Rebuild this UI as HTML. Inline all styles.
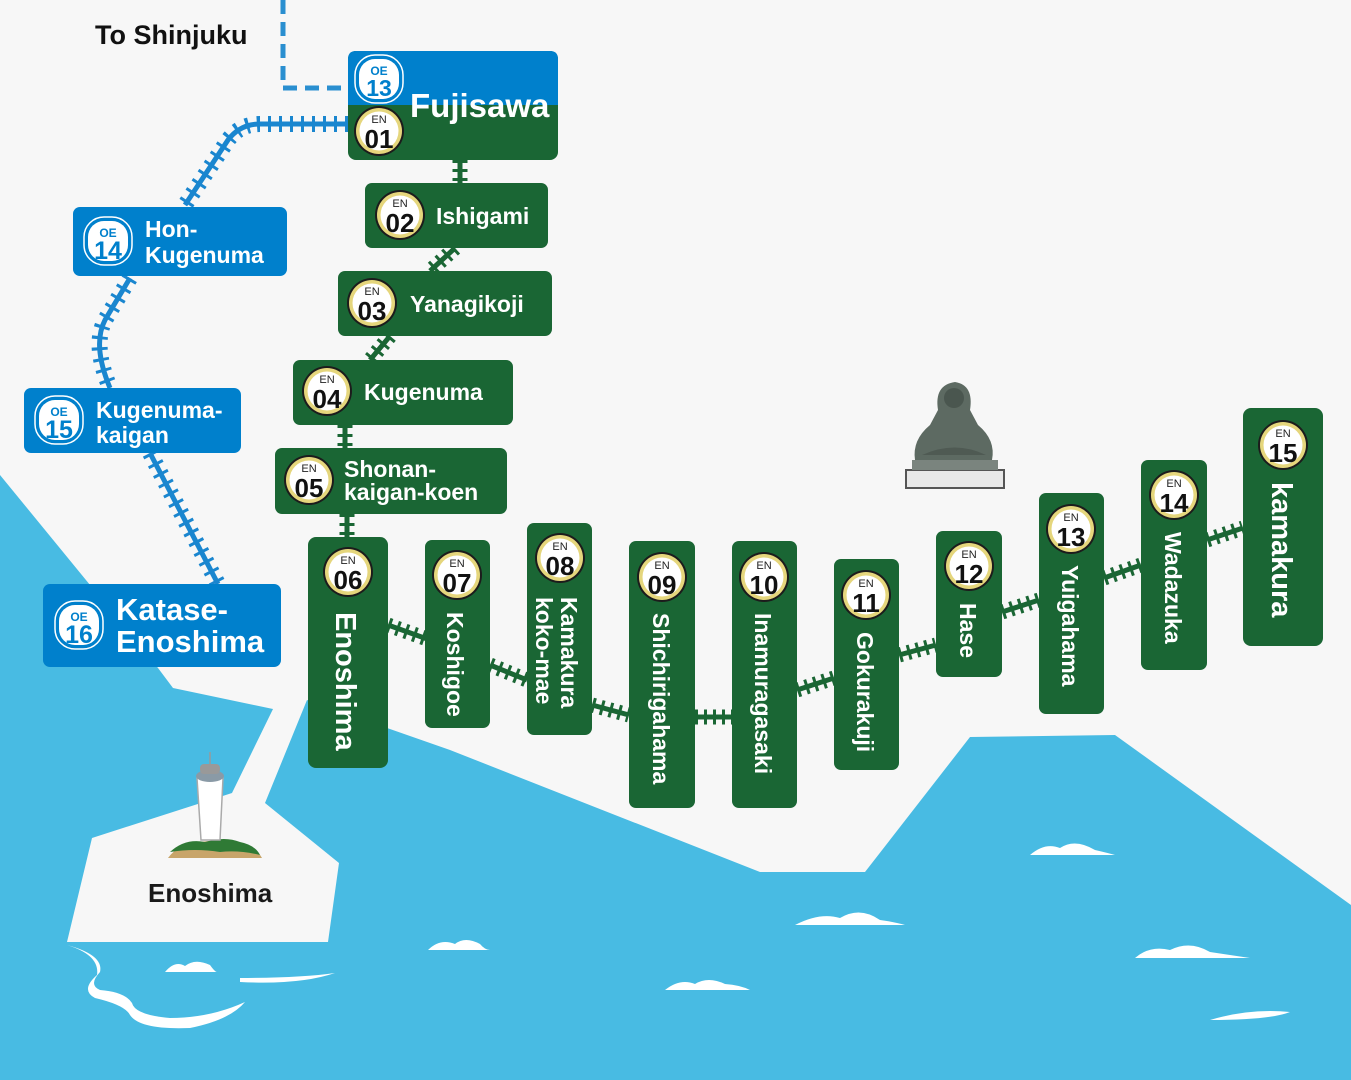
<!DOCTYPE html>
<html><head><meta charset="utf-8"><style>
html,body{margin:0;padding:0;background:#f7f7f7}
svg{display:block}
text{font-family:"Liberation Sans","DejaVu Sans",sans-serif;font-weight:bold}
</style></head><body>
<svg width="1351" height="1080" viewBox="0 0 1351 1080" xmlns="http://www.w3.org/2000/svg">
<defs>
<g id="enb">
<circle r="25" fill="#1c1c1c"/><circle r="23" fill="#e5d67c"/><circle r="19.5" fill="#fff"/>
<text y="-8" text-anchor="middle" font-size="11" fill="#222" style="font-weight:normal">EN</text>
</g>
<g id="oeb">
<rect x="-24" y="-24" width="48" height="48" rx="20" fill="none" stroke="#fff" stroke-width="1.5"/>
<rect x="-20" y="-20" width="40" height="40" rx="16" fill="#fff"/>
<text y="-4" text-anchor="middle" font-size="12" fill="#0080cc">OE</text>
</g>
</defs>
<rect width="1351" height="1080" fill="#48bbe3"/>
<polygon fill="#f7f7f7" points="0,0 1351,0 1351,905 1115,735 970,737 865,872 760,872 450,750 307,700 265,803 339,863 328,942 67,942 92,838 232,793 273,709 173,688 158,668 0,475"/>
<g fill="#fff">
<path d="M67,945 Q100,955 97,975 Q80,990 95,998 Q125,1005 130,1015 Q140,1030 190,1028 Q230,1020 245,1002 Q210,1018 170,1018 Q135,1015 132,1003 Q125,992 100,990 Q88,985 100,972 Q104,955 67,945Z"/>
<path d="M240,982 Q300,985 335,973 Q300,978 240,978Z"/>
<path d="M165,972 Q175,960 185,966 Q195,958 210,965 Q215,972 217,972Z"/>
<path d="M428,950 Q440,938 455,944 Q465,936 480,944 Q485,950 490,950Z"/>
<path d="M665,990 Q680,978 695,984 Q708,976 725,984 Q740,985 750,990Z"/>
<path d="M795,925 Q820,912 840,918 Q860,906 880,920 Q895,922 905,925Z"/>
<path d="M1030,855 Q1045,842 1060,848 Q1075,838 1095,850 Q1108,853 1115,855Z"/>
<path d="M1135,958 Q1150,945 1170,950 Q1190,940 1210,952 Q1230,955 1250,958Z"/>
<path d="M1210,1020 Q1250,1008 1290,1012 Q1270,1020 1210,1020Z"/>
</g>
<g>
<path d="M168,858 Q180,842 200,842 Q230,838 245,845 Q258,850 262,858Z" fill="#c8a56a"/>
<path d="M170,852 Q185,838 205,842 Q225,836 240,842 Q255,845 260,855 Q240,850 220,852 Q195,848 170,852Z" fill="#2f7a35"/>
<path d="M197,778 L223,778 L220,840 L201,840Z" fill="#fff" stroke="#aaa" stroke-width="1.5"/>
<ellipse cx="210" cy="776" rx="14" ry="6" fill="#8a9aa6"/>
<rect x="200" y="764" width="20" height="10" rx="4" fill="#999"/>
<line x1="210" y1="752" x2="210" y2="764" stroke="#999" stroke-width="1.5"/>
</g>
<g fill="#5d6a62">
<rect x="906" y="470" width="98" height="18" fill="#e8e8e8" stroke="#555" stroke-width="2"/>
<rect x="912" y="460" width="86" height="10" fill="#7a847e"/>
<path d="M915,460 Q912,440 930,425 L938,410 Q934,385 955,382 Q974,385 970,410 L978,425 Q996,440 992,460Z"/>
<circle cx="954" cy="398" r="10" fill="#4a564f"/>
<path d="M922,455 Q955,440 986,455Z" fill="#4f5a53"/>
</g>
<path d="M283,0 L283,88 L348,88" fill="none" stroke="#2a8fd0" stroke-width="5" stroke-dasharray="14 8"/>
<g fill="none" stroke="#1a86cf">
<path d="M348,124 L260,124 Q240,124 228,140 L185,205 M130,278 L105,320 Q92,345 110,388 M150,453 L218,584" stroke-width="5"/>
<path d="M348,124 L260,124 Q240,124 228,140 L185,205 M130,278 L105,320 Q92,345 110,388 M150,453 L218,584" stroke-width="16" stroke-dasharray="3 8"/>
</g>
<g fill="none" stroke="#1a6634">
<path d="M460,160 L460,183 M455,248 L430,271 M390,336 L370,360 M345,425 L345,448 M347,514 L347,537 M388,625 L430,640 M490,665 L527,680 M592,705 L629,715 M695,717 L732,717 M797,690 L834,678 M899,655 L936,645 M1002,612 L1039,600 M1104,578 L1141,565 M1207,540 L1243,528" stroke-width="5"/>
<path d="M460,160 L460,183 M455,248 L430,271 M390,336 L370,360 M345,425 L345,448 M347,514 L347,537 M388,625 L430,640 M490,665 L527,680 M592,705 L629,715 M695,717 L732,717 M797,690 L834,678 M899,655 L936,645 M1002,612 L1039,600 M1104,578 L1141,565 M1207,540 L1243,528" stroke-width="15" stroke-dasharray="3 6"/>
</g>
<g fill="#0080cc">
<rect x="73" y="207" width="214" height="69" rx="7"/>
<rect x="24" y="388" width="217" height="65" rx="7"/>
<rect x="43" y="584" width="238" height="83" rx="7"/>
</g>
<use href="#oeb" x="108" y="241"/><text x="108" y="259" text-anchor="middle" font-size="25" fill="#0080cc">14</text>
<use href="#oeb" x="59" y="420"/><text x="59" y="438" text-anchor="middle" font-size="25" fill="#0080cc">15</text>
<use href="#oeb" x="79" y="625"/><text x="79" y="643" text-anchor="middle" font-size="25" fill="#0080cc">16</text>
<g fill="#fff" font-size="23">
<text x="145" y="237">Hon-</text><text x="145" y="263">Kugenuma</text>
<text x="96" y="418">Kugenuma-</text><text x="96" y="443">kaigan</text>
<text x="116" y="620" font-size="31">Katase-</text><text x="116" y="652" font-size="31">Enoshima</text>
</g>
<text x="95" y="44" font-size="27" fill="#111">To Shinjuku</text>
<text x="148" y="902" font-size="26" fill="#1a1a1a">Enoshima</text>
<rect x="348" y="51" width="210" height="109" rx="8" fill="#1a6634"/>
<path d="M356,51 L550,51 Q558,51 558,59 L558,105 L348,105 L348,59 Q348,51 356,51Z" fill="#0080cc"/>
<use href="#oeb" x="379" y="79"/><text x="379" y="96" text-anchor="middle" font-size="23" fill="#0080cc">13</text>
<text x="410" y="117" font-size="33" fill="#fff">Fujisawa</text>
<g fill="#1a6634">
<rect x="365" y="183" width="183" height="65" rx="7"/>
<rect x="338" y="271" width="214" height="65" rx="7"/>
<rect x="293" y="360" width="220" height="65" rx="7"/>
<rect x="275" y="448" width="232" height="66" rx="7"/>
<rect x="308" y="537" width="80" height="231" rx="8"/>
<rect x="425" y="540" width="65" height="188" rx="7"/>
<rect x="527" y="523" width="65" height="212" rx="7"/>
<rect x="629" y="541" width="66" height="267" rx="7"/>
<rect x="732" y="541" width="65" height="267" rx="7"/>
<rect x="834" y="559" width="65" height="211" rx="7"/>
<rect x="936" y="531" width="66" height="146" rx="7"/>
<rect x="1039" y="493" width="65" height="221" rx="7"/>
<rect x="1141" y="460" width="66" height="210" rx="7"/>
<rect x="1243" y="408" width="80" height="238" rx="8"/>
</g>
<g fill="#fff" font-size="23">
<text x="436" y="224">Ishigami</text>
<text x="410" y="312">Yanagikoji</text>
<text x="364" y="400">Kugenuma</text>
<text x="344" y="477">Shonan-</text><text x="344" y="500">kaigan-koen</text>
<text transform="translate(336,612) rotate(90)" font-size="29">Enoshima</text>
<text transform="translate(447,612) rotate(90)">Koshigoe</text>
<text transform="translate(561,597) rotate(90)">Kamakura</text>
<text transform="translate(536,597) rotate(90)">koko-mae</text>
<text transform="translate(653,613) rotate(90)">Shichirigahama</text>
<text transform="translate(755,613) rotate(90)">Inamuragasaki</text>
<text transform="translate(857,632) rotate(90)">Gokurakuji</text>
<text transform="translate(960,603) rotate(90)">Hase</text>
<text transform="translate(1062,565) rotate(90)">Yuigahama</text>
<text transform="translate(1165,532) rotate(90)">Wadazuka</text>
<text transform="translate(1272,482) rotate(90)" font-size="29">kamakura</text>
</g>
<g font-size="26" fill="#111" text-anchor="middle">
<use href="#enb" x="379" y="131"/><text x="379" y="148">01</text>
<use href="#enb" x="400" y="215"/><text x="400" y="232">02</text>
<use href="#enb" x="372" y="303"/><text x="372" y="320">03</text>
<use href="#enb" x="327" y="391"/><text x="327" y="408">04</text>
<use href="#enb" x="309" y="480"/><text x="309" y="497">05</text>
<use href="#enb" x="348" y="572"/><text x="348" y="589">06</text>
<use href="#enb" x="457" y="575"/><text x="457" y="592">07</text>
<use href="#enb" x="560" y="558"/><text x="560" y="575">08</text>
<use href="#enb" x="662" y="577"/><text x="662" y="594">09</text>
<use href="#enb" x="764" y="577"/><text x="764" y="594">10</text>
<use href="#enb" x="866" y="595"/><text x="866" y="612">11</text>
<use href="#enb" x="969" y="566"/><text x="969" y="583">12</text>
<use href="#enb" x="1071" y="529"/><text x="1071" y="546">13</text>
<use href="#enb" x="1174" y="495"/><text x="1174" y="512">14</text>
<use href="#enb" x="1283" y="445"/><text x="1283" y="462">15</text>
</g>
</svg>
</body></html>
